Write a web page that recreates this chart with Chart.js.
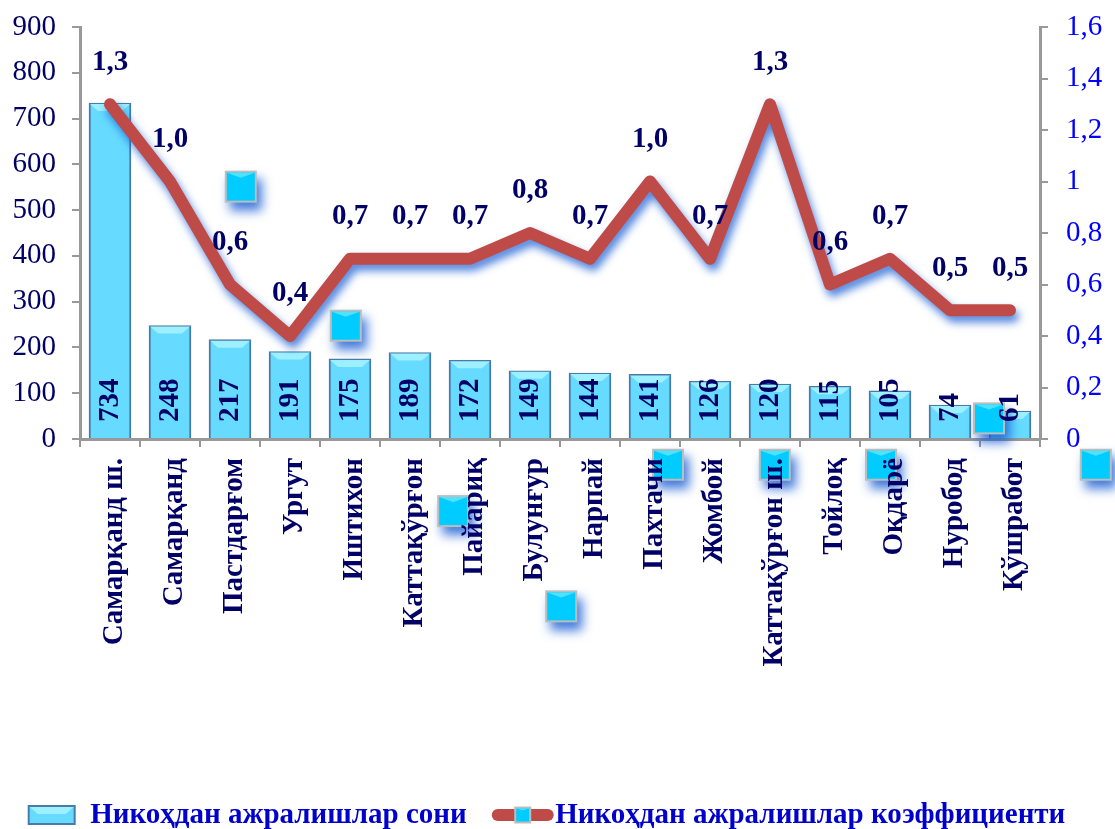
<!DOCTYPE html>
<html>
<head>
<meta charset="utf-8">
<script src="https://cdn.jsdelivr.net/npm/chart.js@4"></script>
<style>
  body { margin: 0; background: #fff; }
  canvas { display: block; }
</style>
</head>
<body>
<canvas id="chart" width="1115" height="829"></canvas>
<script>
const categories = ['Самарқанд ш.', 'Самарқанд', 'Пастдарғом', 'Ургут', 'Иштихон', 'Каттақўрғон', 'Пайариқ', 'Булунғур', 'Нарпай', 'Пахтачи', 'Жомбой', 'Каттақўрғон ш.', 'Тойлоқ', 'Оқдарё', 'Нуробод', 'Қўшработ'];
const divorceCount = [734, 248, 217, 191, 175, 189, 172, 149, 144, 141, 126, 120, 115, 105, 74, 61];
const divorceRate = [1.3, 1.0, 0.6, 0.4, 0.7, 0.7, 0.7, 0.8, 0.7, 1.0, 0.7, 1.3, 0.6, 0.7, 0.5, 0.5];
// loose line markers, they sit away from the line in the picture
const markerX = [2.18, 3.93, 5.72, 7.52, 9.3, 11.08, 12.85, 14.65, 16.43];
const markerY = [0.98, 0.44, -0.28, -0.65, -0.1, -0.1, -0.1, 0.08, -0.1];
const countLabel = 'Никоҳдан ажралишлар сони';
const rateLabel = 'Никоҳдан ажралишлар коэффициенти';

const serif = '"Liberation Serif", serif';
const navy = '#000066';
const lineRed = '#BE4B48';

function drawMarker(ctx, cx, cy, size, shadow) {
  const h = size / 2;
  ctx.save();
  if (shadow) {
    ctx.shadowColor = 'rgba(20, 90, 210, 0.8)';
    ctx.shadowBlur = 11;
    ctx.shadowOffsetX = 5;
    ctx.shadowOffsetY = 8;
  }
  ctx.fillStyle = '#BDBDBD';
  ctx.fillRect(cx - h, cy - h, size, size);
  ctx.restore();
  ctx.fillStyle = '#00CCFF';
  ctx.fillRect(cx - h + 2, cy - h + 2, size - 4, size - 4);
  ctx.fillStyle = '#4FE2FF';
  ctx.beginPath();
  ctx.moveTo(cx - h + 2, cy - h + 2);
  ctx.lineTo(cx + h - 2, cy - h + 2);
  ctx.lineTo(cx, cy - h + size * 0.22);
  ctx.closePath();
  ctx.fill();
}

function drawBevel(ctx, x1, y1, x2, y2) {
  const depth = Math.min(7, (y2 - y1) / 2);
  ctx.fillStyle = '#9CF0FF';
  ctx.beginPath();
  ctx.moveTo(x1, y1);
  ctx.lineTo(x2, y1);
  ctx.lineTo(x2 - 8, y1 + depth);
  ctx.lineTo(x1 + 8, y1 + depth);
  ctx.closePath();
  ctx.fill();
}

const decorPlugin = {
  id: 'decor',
  afterLayout(chart) {
    chart.legend.top = 775;
    chart.legend.bottom = 829;
    chart.legend.left -= 11;
    chart.legend.right -= 11;
  },
  beforeDatasetDraw(chart, args) {
    if (args.index === 1) {
      const ctx = chart.ctx;
      ctx.save();
      ctx.shadowColor = 'rgba(20, 90, 210, 0.75)';
      ctx.shadowBlur = 8;
      ctx.shadowOffsetX = 3;
      ctx.shadowOffsetY = 6;
    }
  },
  afterDatasetDraw(chart, args) {
    const ctx = chart.ctx;
    if (args.index === 0) {
      args.meta.data.forEach(bar => {
        drawBevel(ctx, bar.x - bar.width / 2 + 1, bar.y + 1, bar.x + bar.width / 2 - 1, bar.base);
      });
    }
    if (args.index === 1) ctx.restore();
    if (args.index === 2) {
      // points outside the chart area are skipped by the library, so draw them from their parsed position
      args.meta.data.forEach(pt => drawMarker(ctx, pt.x, pt.y, 32, true));
    }
  },
  afterDatasetsDraw(chart) {
    const ctx = chart.ctx;
    ctx.save();
    ctx.fillStyle = navy;
    ctx.font = 'bold 29px ' + serif;
    ctx.textAlign = 'center';
    ctx.textBaseline = 'middle';
    chart.getDatasetMeta(1).data.forEach((pt, i) => {
      ctx.fillText(divorceRate[i].toFixed(1).replace('.', ','), pt.x, pt.y - 42);
    });
    ctx.textAlign = 'left';
    chart.getDatasetMeta(0).data.forEach((bar, i) => {
      ctx.save();
      ctx.translate(bar.x, bar.base - 16);
      ctx.rotate(-Math.PI / 2);
      ctx.fillText(String(divorceCount[i]), 0, 1);
      ctx.restore();
    });
    ctx.restore();
  },
  afterDraw(chart) {
    const ctx = chart.ctx;
    const boxes = chart.legend.legendHitBoxes;
    const cy = 815;
    const a = boxes[0].left;
    ctx.save();
    ctx.fillStyle = '#66DBFF';
    ctx.strokeStyle = '#4A7BA8';
    ctx.lineWidth = 2;
    ctx.fillRect(a + 1, cy - 9, 46, 18);
    ctx.strokeRect(a + 1, cy - 9, 46, 18);
    drawBevel(ctx, a + 2, cy - 8, a + 46, cy + 8);
    const b = boxes[1].left;
    ctx.strokeStyle = lineRed;
    ctx.lineWidth = 12;
    ctx.lineCap = 'round';
    ctx.beginPath();
    ctx.moveTo(b + 5, cy);
    ctx.lineTo(b + 55, cy);
    ctx.stroke();
    drawMarker(ctx, b + 30, cy, 17, false);
    ctx.restore();
  }
};

new Chart(document.getElementById('chart'), {
  type: 'bar',
  data: {
    labels: categories,
    datasets: [
      {
        label: countLabel,
        data: divorceCount,
        yAxisID: 'y',
        order: 3,
        backgroundColor: '#66DBFF',
        borderColor: '#4A7BA8',
        borderWidth: 2,
        barThickness: 42,
        grouped: false,
      },
      {
        type: 'line',
        label: rateLabel,
        data: divorceRate,
        yAxisID: 'y2',
        order: 2,
        borderColor: lineRed,
        backgroundColor: lineRed,
        borderWidth: 12,
        borderCapStyle: 'round',
        borderJoinStyle: 'round',
        tension: 0,
        pointRadius: 0,
        clip: false,
      },
      {
        type: 'scatter',
        label: 'markers',
        data: markerX.map((x, i) => ({ x, y: markerY[i] })),
        xAxisID: 'x2',
        yAxisID: 'y2',
        order: 1,
        pointRadius: 0,
        clip: false,
      },
    ],
  },
  options: {
    responsive: false,
    animation: false,
    layout: { padding: { top: 27 } },
    plugins: {
      title: { display: false },
      tooltip: { enabled: false },
      legend: {
        display: true,
        position: 'bottom',
        labels: {
          boxWidth: 48,
          boxHeight: 18,
          padding: 26,
          color: '#0000CC',
          font: { family: serif, size: 29, weight: 'bold' },
          filter: item => item.datasetIndex !== 2,
          sort: (a, b) => a.datasetIndex - b.datasetIndex,
          generateLabels: chart => Chart.defaults.plugins.legend.labels.generateLabels(chart).map(item => ({
            ...item,
            fillStyle: 'rgba(0,0,0,0)',
            strokeStyle: 'rgba(0,0,0,0)',
            lineWidth: 0,
          })),
        },
      },
    },
    scales: {
      x: {
        offset: true,
        afterFit: scale => { scale.height = 325; },
        grid: { drawOnChartArea: false, offset: true, color: '#999999', lineWidth: 2, tickLength: 8 },
        border: { color: '#999999', width: 3 },
        ticks: {
          z: 1, // labels sit on top of the loose markers
          color: navy,
          autoSkip: false,
          minRotation: 90,
          maxRotation: 90,
          padding: 11,
          labelOffset: 5,
          font: { family: serif, size: 29, weight: 'bold' },
        },
      },
      x2: { type: 'linear', display: false, offset: false, min: -0.5, max: 15.5 },
      y: {
        position: 'left',
        min: 0,
        max: 900,
        afterFit: scale => { scale.width = 80; scale.paddingTop = 0; scale.paddingBottom = 0; },
        grid: { drawOnChartArea: false, color: '#999999', lineWidth: 2, tickLength: 8 },
        border: { color: '#999999', width: 3 },
        ticks: {
          stepSize: 100,
          color: navy,
          padding: 16,
          font: { family: serif, size: 29 },
        },
      },
      y2: {
        position: 'right',
        min: 0,
        max: 1.6,
        afterFit: scale => { scale.width = 75; scale.paddingTop = 0; scale.paddingBottom = 0; },
        grid: { drawOnChartArea: false, color: '#999999', lineWidth: 2, tickLength: 8 },
        border: { color: '#999999', width: 3 },
        ticks: {
          stepSize: 0.2,
          color: '#0000FF',
          padding: 18,
          font: { family: serif, size: 29 },
          callback: value => String(Number(value.toFixed(1))).replace('.', ','),
        },
      },
    },
  },
  plugins: [decorPlugin],
});
</script>
</body>
</html>
